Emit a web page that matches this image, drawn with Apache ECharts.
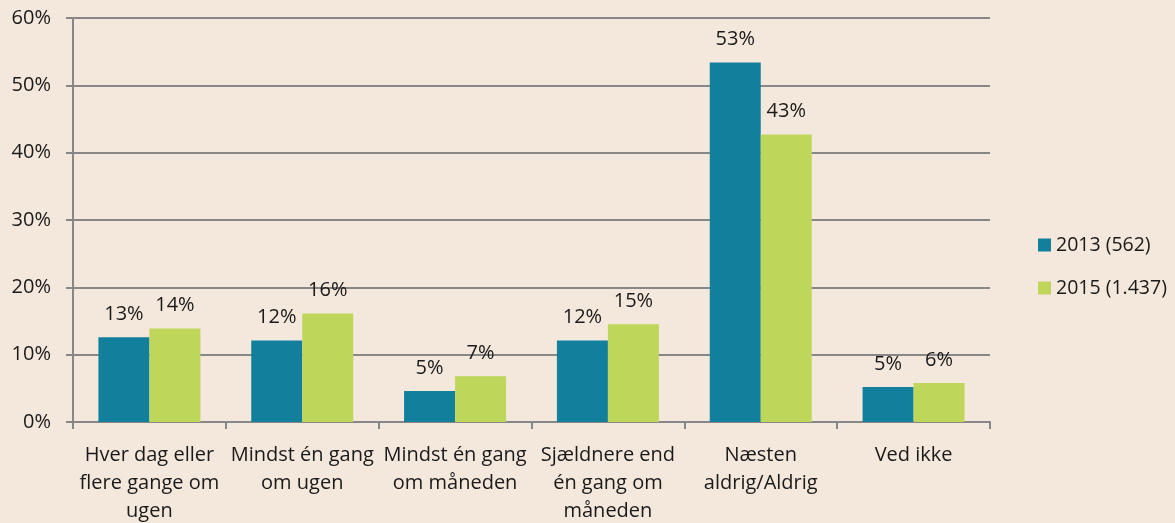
<!DOCTYPE html>
<html>
<head>
<meta charset="utf-8">
<script src="https://cdn.jsdelivr.net/npm/echarts@6/dist/echarts.min.js"></script>
<style>
  html, body { margin: 0; padding: 0; background: #f4e8dc; }
  #chart { width: 1175px; height: 523px; }
</style>
</head>
<body>
<div id="chart"></div>
<script>
const categories = [
  'Hver dag eller\nflere gange om\nugen',
  'Mindst én gang\nom ugen',
  'Mindst én gang\nom måneden',
  'Sjældnere end\nén gang om\nmåneden',
  'Næsten\naldrig/Aldrig',
  'Ved ikke'
]
const seriesNames = ['2013 (562)', '2015 (1.437)']
const values2013 = [12.6, 12.1, 4.6, 12.1, 53.4, 5.2]
const values2015 = [13.9, 16.1, 6.8, 14.5, 42.7, 5.8]
const yTicks = [0, 10, 20, 30, 40, 50, 60]

const colors = ['#127f9c', '#bed75a']
const fontFamily = '"Open Sans", "Noto Sans", sans-serif'
const axisGray = '#878787'
const textColor = '#1a1a1a'

const chart = echarts.init(document.getElementById('chart'))

const makeSeries = (name, data, idx) => ({
  name,
  type: 'bar',
  data,
  barWidth: 51,
  barGap: '0%',
  itemStyle: { color: colors[idx] },
  label: {
    show: true,
    position: 'top',
    distance: 13,
    color: textColor,
    fontSize: 20,
    fontFamily,
    formatter: (p) => Math.round(p.value) + '%',
  },
})

chart.setOption({
  backgroundColor: '#f4e8dc',
  animation: false,
  grid: {
    left: 73,
    right: 185,
    top: 18,
    bottom: 101,
    outerBoundsMode: 'none',
  },
  legend: {
    orient: 'vertical',
    left: 1033,
    top: 230,
    itemWidth: 13,
    itemHeight: 13,
    itemGap: 23,
    icon: 'rect',
    textStyle: { color: textColor, fontSize: 19.5, fontFamily },
    data: seriesNames,
  },
  xAxis: {
    type: 'category',
    data: categories,
    axisLine: { show: true, lineStyle: { color: axisGray, width: 2 } },
    axisTick: { show: true, length: 7, lineStyle: { color: axisGray, width: 2 } },
    axisLabel: {
      interval: 0,
      margin: 19,
      color: textColor,
      fontSize: 20,
      lineHeight: 28,
      fontFamily,
    },
  },
  yAxis: {
    type: 'value',
    min: yTicks[0],
    max: yTicks[yTicks.length - 1],
    interval: 10,
    axisLine: { show: true, lineStyle: { color: axisGray, width: 2 } },
    axisTick: { show: true, length: 7, lineStyle: { color: axisGray, width: 2 } },
    splitLine: { show: true, lineStyle: { color: axisGray, width: 2 } },
    axisLabel: {
      margin: 22,
      color: textColor,
      fontSize: 20,
      fontFamily,
      formatter: '{value}%',
    },
  },
  series: [
    makeSeries(seriesNames[0], values2013, 0),
    makeSeries(seriesNames[1], values2015, 1),
  ],
})
</script>
</body>
</html>
